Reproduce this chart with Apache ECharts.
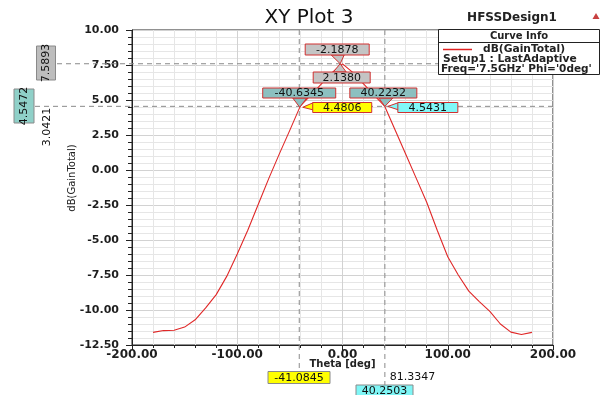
<!DOCTYPE html>
<html><head><meta charset="utf-8">
<script src="https://cdn.jsdelivr.net/npm/echarts@6/dist/echarts.min.js"></script>
<style>html,body{margin:0;padding:0;background:#fff}#c{width:609px;height:395px}</style>
</head><body><div id="c"></div>
<script>
// ---- data ----
var theta = [-180,-170,-160,-150,-140,-130,-120,-110,-100,-90,-80,-70,-60,-50,-40,-30,-20,-10,0,10,20,30,40,50,60,70,80,90,100,110,120,130,140,150,160,170,180];
var gain  = [-11.6,-11.47,-11.45,-11.22,-10.7,-9.85,-8.9,-7.6,-6.0,-4.3,-2.45,-0.6,1.15,2.85,4.58,5.35,6.15,6.95,7.58,6.95,6.15,5.35,4.57,2.86,1.14,-0.58,-2.3,-4.3,-6.2,-7.5,-8.65,-9.4,-10.1,-11.0,-11.58,-11.75,-11.6];
var xTicks = [-200,-100,0,100,200];
var yTicks = [-12.5,-10,-7.5,-5,-2.5,0,2.5,5,7.5,10];
// curve markers: [theta, value]
var peakMarker = [-2.1878, 7.5893];
var peakDelta = 2.1380;
var leftMarker = [-40.6345, 4.4806];
var rightMarker = [40.2232, 4.5431];
// axis cursor lines
var xCursors = [-41.0845, 40.2503];
var xCursorDelta = 81.3347;
var yCursors = [7.5893, 4.5472];
var yCursorDelta = 3.0421;

var chart = echarts.init(document.getElementById('c'), null, {renderer:'canvas'});
var FONT = 'DejaVu Sans';
chart.setOption({
  animation:false,
  backgroundColor:'#fff',
  grid:{left:132,right:56,top:30,bottom:50,show:true,borderColor:'#222',borderWidth:1,backgroundColor:'transparent'},
  xAxis:{type:'value',min:xTicks[0],max:xTicks[xTicks.length-1],interval:100,
    axisLine:{onZero:false,lineStyle:{color:'#222',width:1}},
    axisTick:{show:true,inside:false,length:5,lineStyle:{color:'#222'}},
    minorTick:{show:true,splitNumber:5,length:3,lineStyle:{color:'#222'}},
    splitLine:{show:true,lineStyle:{color:'#d2d2d2',width:1}},
    minorSplitLine:{show:true,lineStyle:{color:'#e6e6e6',width:1}},
    axisLabel:{margin:4,fontFamily:FONT,fontWeight:'bold',fontSize:12,color:'#1e1e1e',formatter:function(v){return v.toFixed(2);}}
  },
  yAxis:{type:'value',min:yTicks[0],max:yTicks[yTicks.length-1],interval:2.5,
    axisLine:{onZero:false,lineStyle:{color:'#222',width:1}},
    axisTick:{show:true,inside:false,length:6,lineStyle:{color:'#222'}},
    minorTick:{show:true,splitNumber:5,length:4,lineStyle:{color:'#222'}},
    splitLine:{show:true,lineStyle:{color:'#d2d2d2',width:1}},
    minorSplitLine:{show:true,lineStyle:{color:'#e6e6e6',width:1}},
    axisLabel:{margin:13,fontFamily:FONT,fontWeight:'bold',fontSize:11,color:'#1e1e1e',formatter:function(v){return v.toFixed(2);}}
  },
  series:[{type:'line',data:theta.map(function(t,i){return [t,gain[i]];}),showSymbol:false,
    lineStyle:{color:'#e02828',width:1.1},z:5}]
});

function P(x,y){return chart.convertToPixel({gridIndex:0},[x,y]);}
var g = [];
var topY = P(0, yTicks[yTicks.length-1])[1];
var leftX = P(xTicks[0],0)[0];
var rightX = P(xTicks[xTicks.length-1],0)[0];

function dash(x1,y1,x2,y2){
  g.push({type:'line',shape:{x1:x1,y1:y1,x2:x2,y2:y2},style:{stroke:'#8a8a8a',lineWidth:1,lineDash:[5,4]},z:6});
}
function box(x,y,w,h,text,fill,stroke,fs,rot){
  if(rot){
    g.push({type:'group',x:x,y:y,rotation:Math.PI/2,z:20,children:[
      {type:'rect',shape:{x:-w/2,y:-h/2,width:w,height:h},style:{fill:fill,stroke:stroke,lineWidth:1}},
      {type:'text',style:{x:0,y:0.5,text:text,font:'normal '+fs+'px "'+FONT+'"',fill:'#111',align:'center',verticalAlign:'middle'}}
    ]});
    return;
  }
  g.push({type:'rect',shape:{x:x,y:y,width:w,height:h},style:{fill:fill,stroke:stroke,lineWidth:1},z:20});
  g.push({type:'text',style:{x:x+w/2,y:y+h/2+0.5,text:text,font:'normal '+fs+'px "'+FONT+'"',fill:'#111',align:'center',verticalAlign:'middle'},z:21});
}
function tri(pts,fill){
  g.push({type:'polygon',shape:{points:pts},style:{fill:fill,stroke:'#d03030',lineWidth:1},z:19});
}

// cursor lines
var xa = P(xCursors[0],0)[0], xb = P(xCursors[1],0)[0];
dash(xa, topY, xa, 371);
dash(xb, topY, xb, 385);
var ya = P(0,yCursors[0])[1], yb = P(0,yCursors[1])[1];
dash(57, ya, rightX, ya);
dash(35, yb, rightX, yb);

// axis cursor labels
box(268, 371.5, 62, 12, xCursors[0].toFixed(4), '#ffff00', '#8a8a8a', 11, false);
box(356, 385, 57, 12, xCursors[1].toFixed(4), '#7ff6f6', '#8a8a8a', 11, false);
g.push({type:'text',style:{x:xb+5,y:377.5,text:xCursorDelta.toFixed(4),font:'normal 11px "'+FONT+'"',fill:'#111',align:'left',verticalAlign:'middle'},z:21});
box(46, 63, 34, 19, yCursors[0].toFixed(4), '#bdbdbd', '#8a8a8a', 11, true);
box(24, 106, 34, 20, yCursors[1].toFixed(4), '#8fd0c8', '#8a8a8a', 11, true);
g.push({type:'text',x:47,y:127,rotation:Math.PI/2,style:{x:0,y:0,text:yCursorDelta.toFixed(4),font:'normal 11px "'+FONT+'"',fill:'#111',align:'center',verticalAlign:'middle'},z:21});

// curve markers
var pk = P(peakMarker[0],peakMarker[1]);
tri([[pk[0]-9,55],[pk[0]+4,55],[pk[0],pk[1]]],'#c4c4c4');
box(pk[0]-35, 44, 64, 11, peakMarker[0].toFixed(4), '#c4c4c4', '#d03030', 11, false);
tri([[pk[0],pk[1]],[pk[0]-7,72],[pk[0]+6,72]],'#c4c4c4');
box(pk[0]-27, 72, 57, 11, peakDelta.toFixed(4), '#c4c4c4', '#d03030', 11, false);

var lm = P(leftMarker[0],leftMarker[1]);
tri([[lm[0]-7,98],[lm[0]+7,98],[lm[0],lm[1]]],'#8cc0c0');
box(lm[0]-37, 88, 73, 10, leftMarker[0].toFixed(4), '#8cc0c0', '#d03030', 11, false);
tri([[lm[0]+3,lm[1]],[lm[0]+14,102.5],[lm[0]+14,110]],'#ffff00');
box(lm[0]+13, 102.5, 59, 10, leftMarker[1].toFixed(4), '#ffff00', '#d03030', 11, false);

var rm = P(rightMarker[0],rightMarker[1]);
tri([[rm[0]-6,98],[rm[0]+8,98],[rm[0],rm[1]]],'#8cc0c0');
box(rm[0]-35, 88, 67, 10, rightMarker[0].toFixed(4), '#8cc0c0', '#d03030', 11, false);
tri([[rm[0]+3,rm[1]],[rm[0]+14,102.5],[rm[0]+14,110]],'#80f8f8');
box(rm[0]+13, 102.5, 60, 10, rightMarker[1].toFixed(4), '#80f8f8', '#d03030', 11, false);

// titles
g.push({type:'text',style:{x:309,y:18,text:'XY Plot 3',font:'normal 20px "'+FONT+'"',fill:'#111',align:'center',verticalAlign:'middle'},z:21});
g.push({type:'text',style:{x:512,y:18,text:'HFSSDesign1',font:'bold 12px "'+FONT+'"',fill:'#222',align:'center',verticalAlign:'middle'},z:21});
g.push({type:'polygon',shape:{points:[[596,13],[592.5,19],[599.5,19]]},style:{fill:'#c84040'},z:21});

// axis names
g.push({type:'text',style:{x:(leftX+rightX)/2,y:364,text:'Theta [deg]',font:'bold 10px "'+FONT+'"',fill:'#222',align:'center',verticalAlign:'middle'},z:21});
g.push({type:'text',x:72,y:178,rotation:Math.PI/2,style:{x:0,y:0,text:'dB(GainTotal)',font:'normal 10px "'+FONT+'"',fill:'#222',align:'center',verticalAlign:'middle'},z:21});

// legend
g.push({type:'rect',shape:{x:438.5,y:29.5,width:161,height:45},style:{fill:'#fff',stroke:'#222',lineWidth:1},z:30});
g.push({type:'line',shape:{x1:438.5,y1:42.5,x2:599.5,y2:42.5},style:{stroke:'#222',lineWidth:1},z:31});
g.push({type:'text',style:{x:519,y:36,text:'Curve Info',font:'bold 10px "'+FONT+'"',fill:'#222',align:'center',verticalAlign:'middle'},z:31});
g.push({type:'line',shape:{x1:443,y1:49.5,x2:472,y2:49.5},style:{stroke:'#e02020',lineWidth:1.5},z:32});
g.push({type:'text',style:{x:483,y:49.5,text:'dB(GainTotal)',font:'bold 10.7px "'+FONT+'"',fill:'#222',align:'left',verticalAlign:'middle'},z:31});
g.push({type:'text',style:{x:443,y:59.5,text:'Setup1 : LastAdaptive',font:'bold 10.7px "'+FONT+'"',fill:'#222',align:'left',verticalAlign:'middle'},z:31});
g.push({type:'text',style:{x:441,y:69.5,text:"Freq='7.5GHz' Phi='0deg'",font:'bold 10.5px "'+FONT+'"',fill:'#222',align:'left',verticalAlign:'middle'},z:31});

chart.setOption({graphic:g});
</script></body></html>
